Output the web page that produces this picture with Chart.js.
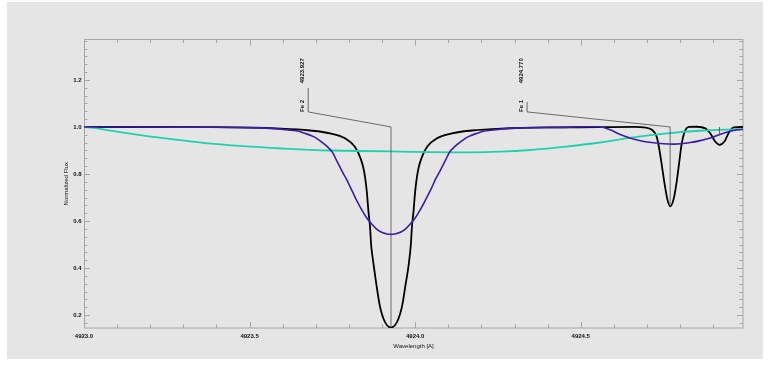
<!DOCTYPE html>
<html>
<head>
<meta charset="utf-8">
<title>Fe line profiles</title>
<script src="https://cdn.jsdelivr.net/npm/chart.js@4.4.1/dist/chart.umd.min.js"></script>
<style>
  html, body { margin: 0; padding: 0; background: #ffffff; }
  canvas { display: block; }
</style>
</head>
<body>
<canvas id="spec" width="769" height="383"></canvas>
<script>
// Axis tick labels
const wavelengthTicks = [4923.0, 4923.5, 4924.0, 4924.5];
const fluxTicks = [0.2, 0.4, 0.6, 0.8, 1.0, 1.2];

// Narrow synthetic profile (black)
const narrowWave = [
  4923.000, 4923.400, 4923.595, 4923.682, 4923.743, 4923.788, 4923.818, 4923.835,
  4923.846, 4923.854, 4923.859, 4923.864, 4923.867, 4923.874, 4923.884, 4923.894,
  4923.909, 4923.927, 4923.945, 4923.960, 4923.970, 4923.981, 4923.987, 4923.990,
  4923.995, 4924.000, 4924.008, 4924.019, 4924.036, 4924.066, 4924.111, 4924.172,
  4924.259, 4924.400, 4924.550, 4924.665, 4924.691, 4924.716, 4924.729, 4924.736,
  4924.744, 4924.753, 4924.762, 4924.770, 4924.780, 4924.789, 4924.797, 4924.805,
  4924.814, 4924.827, 4924.851, 4924.876, 4924.891, 4924.906, 4924.919, 4924.934,
  4924.947, 4924.962, 4924.990
];
const narrowFlux = [
  1.000, 0.999, 0.993, 0.985, 0.973, 0.952, 0.916, 0.867,
  0.810, 0.725, 0.640, 0.570, 0.500, 0.420, 0.320, 0.235,
  0.170, 0.147, 0.170, 0.235, 0.320, 0.420, 0.500, 0.570,
  0.640, 0.725, 0.810, 0.867, 0.916, 0.952, 0.973, 0.985,
  0.993, 0.998, 0.999, 1.000, 0.998, 0.987, 0.960, 0.916,
  0.845, 0.760, 0.690, 0.662, 0.690, 0.760, 0.845, 0.930,
  0.980, 1.000, 1.001, 0.994, 0.973, 0.938, 0.924, 0.938,
  0.975, 0.998, 1.000
];

// Broadened profile (indigo)
const broadWave = [
  4923.000, 4923.300, 4923.534, 4923.640, 4923.667, 4923.693, 4923.709, 4923.723,
  4923.737, 4923.749, 4923.759, 4923.770, 4923.780, 4923.791, 4923.805, 4923.818,
  4923.830, 4923.842, 4923.854, 4923.867, 4923.882, 4923.897, 4923.912, 4923.927,
  4923.942, 4923.957, 4923.972, 4923.987, 4924.000, 4924.012, 4924.024, 4924.036,
  4924.050, 4924.063, 4924.074, 4924.084, 4924.095, 4924.105, 4924.117, 4924.131,
  4924.145, 4924.161, 4924.187, 4924.214, 4924.320, 4924.450, 4924.559, 4924.589,
  4924.619, 4924.656, 4924.695, 4924.740, 4924.785, 4924.831, 4924.861, 4924.891,
  4924.931, 4924.961, 4924.990
];
const broadFlux = [
  1.000, 0.999, 0.996, 0.984, 0.973, 0.959, 0.945, 0.930,
  0.913, 0.895, 0.868, 0.838, 0.810, 0.782, 0.742, 0.703,
  0.670, 0.640, 0.613, 0.590, 0.568, 0.553, 0.546, 0.543,
  0.546, 0.553, 0.568, 0.590, 0.613, 0.640, 0.670, 0.703,
  0.742, 0.782, 0.810, 0.838, 0.868, 0.895, 0.913, 0.930,
  0.945, 0.959, 0.973, 0.984, 0.996, 0.998, 1.000, 0.988,
  0.968, 0.950, 0.937, 0.930, 0.927, 0.934, 0.942, 0.953,
  0.973, 0.985, 0.990
];

// Very broad profile (teal)
const smoothWave = [
  4923.000, 4923.030, 4923.069, 4923.130, 4923.202, 4923.302, 4923.402, 4923.505,
  4923.604, 4923.665, 4923.743, 4923.927, 4924.045, 4924.166, 4924.257, 4924.347,
  4924.438, 4924.559, 4924.659, 4924.761, 4924.861, 4924.990
];
const smoothFlux = [
  1.000, 0.996, 0.987, 0.974, 0.959, 0.942, 0.927, 0.916,
  0.908, 0.904, 0.900, 0.896, 0.893, 0.892, 0.895, 0.902,
  0.914, 0.934, 0.956, 0.973, 0.984, 0.991
];

// Line identifications
const lineIds = ['Fe 2', 'Fe 1'];
const lineWaves = [4923.927, 4924.770];
const lineCoreFlux = [0.147, 0.662];
const blendWaves = [4924.919];

const FONT = '"Liberation Sans", Arial, Helvetica, sans-serif';
const AXIS_GREY = '#a6a6a6';
const TEXT = '#111111';

function pairs(xs, ys) { return xs.map((x, i) => ({ x: x, y: ys[i] })); }

// Figure background, frame and inward-pointing ticks on all four sides
const framePlugin = {
  id: 'frame',
  beforeDraw(chart) {
    const c = chart.ctx;
    c.save();
    c.fillStyle = '#ffffff';
    c.fillRect(0, 0, chart.width, chart.height);
    c.fillStyle = '#e5e5e5';
    c.fillRect(7, 2, 756, 357);
    c.restore();
  },
  beforeDatasetsDraw(chart) {
    const c = chart.ctx;
    const a = chart.chartArea;
    const xs = chart.scales.x, ys = chart.scales.y;
    c.save();
    c.strokeStyle = AXIS_GREY;
    c.lineWidth = 1;
    c.strokeRect(a.left + 0.5, a.top, a.right - a.left - 0.5, a.bottom - a.top);
    c.beginPath();
    // wavelength ticks: minor every 0.1, major every 0.5
    for (let k = 0; ; k++) {
      const v = xs.min + k * 0.1;
      if (v > xs.max + 1e-9) break;
      const px = Math.round(xs.getPixelForValue(v)) + 0.5;
      const len = (k % 5 === 0) ? 6 : 3.5;
      c.moveTo(px, a.bottom); c.lineTo(px, a.bottom - len);
      c.moveTo(px, a.top); c.lineTo(px, a.top + len);
    }
    // flux ticks: major every 0.2, six minor intervals
    const step = 0.2 / 6;
    for (let k = Math.ceil(ys.min / step - 1e-9); k * step <= ys.max + 1e-9; k++) {
      const py = Math.round(ys.getPixelForValue(k * step)) + 0.5;
      const len = (k % 6 === 0) ? 6 : 3.5;
      c.moveTo(a.left, py); c.lineTo(a.left + len, py);
      c.moveTo(a.right, py); c.lineTo(a.right - len, py);
    }
    c.stroke();
    c.restore();
  }
};

// Line identification leaders and labels
const idPlugin = {
  id: 'lineIds',
  afterDatasetsDraw(chart, args, opts) {
    const c = chart.ctx;
    const xs = chart.scales.x, ys = chart.scales.y;
    c.save();
    c.strokeStyle = opts.color;
    c.lineWidth = 0.8;
    c.fillStyle = TEXT;
    c.font = opts.font;
    lineIds.forEach((id, i) => {
      const x0 = xs.getPixelForValue(lineWaves[i]);
      const xk = xs.getPixelForValue(opts.kneeWave[i]);
      const yc = ys.getPixelForValue(1.0);
      const yk = ys.getPixelForValue(opts.kneeFlux);
      const yt = ys.getPixelForValue(opts.topFlux[i]);
      const yb = ys.getPixelForValue(lineCoreFlux[i]);
      c.beginPath();
      c.moveTo(x0, yb); c.lineTo(x0, yc);
      c.lineTo(xk, yk); c.lineTo(xk, yt);
      c.stroke();
      const tx = xk + opts.textOffset;
      c.save();
      c.translate(tx, yk);
      c.rotate(-Math.PI / 2);
      c.textAlign = 'left';
      c.textBaseline = 'middle';
      c.fillText(id, 0, 0);
      c.restore();
      c.save();
      c.translate(tx, ys.getPixelForValue(opts.waveLabelFlux));
      c.rotate(-Math.PI / 2);
      c.textAlign = 'left';
      c.textBaseline = 'middle';
      c.fillText(lineWaves[i].toFixed(3), 0, 0);
      c.restore();
    });
    blendWaves.forEach(w => {
      const x = xs.getPixelForValue(w);
      c.beginPath();
      c.moveTo(x, ys.getPixelForValue(1.0));
      c.lineTo(x, ys.getPixelForValue(opts.blendTickFlux));
      c.stroke();
    });
    c.restore();
  }
};

new Chart(document.getElementById('spec'), {
  type: 'line',
  data: {
    datasets: [
      {
        label: 'broad', data: pairs(broadWave, broadFlux),
        borderColor: '#3a1ea8', borderWidth: 1.6, pointRadius: 0,
        tension: 0.4, fill: false
      },
      {
        label: 'smooth', data: pairs(smoothWave, smoothFlux),
        borderColor: '#1fd2ae', borderWidth: 1.8, pointRadius: 0,
        tension: 0.4, fill: false
      },
      {
        label: 'narrow', data: pairs(narrowWave, narrowFlux),
        borderColor: '#000000', borderWidth: 1.8, pointRadius: 0,
        cubicInterpolationMode: 'monotone', fill: false
      }
    ]
  },
  options: {
    responsive: false,
    animation: false,
    devicePixelRatio: 1,
    layout: { padding: { left: 0, top: 39.5, right: 26, bottom: 0 } },
    plugins: {
      legend: { display: false },
      tooltip: { enabled: false },
      lineIds: {
        color: '#4a4a4a',
        font: 'bold 6px ' + FONT,
        kneeWave: [4923.677, 4924.338],
        kneeFlux: 1.064,
        topFlux: [1.166, 1.106],
        waveLabelFlux: 1.186,
        textOffset: -5.5,
        blendTickFlux: 0.965
      }
    },
    scales: {
      x: {
        type: 'linear',
        min: 4923.0,
        max: 4924.99,
        afterBuildTicks: s => { s.ticks = wavelengthTicks.map(v => ({ value: v })); },
        afterFit: s => { s.height = 55; },
        grid: { display: false, drawTicks: false },
        border: { display: false },
        ticks: {
          font: { family: FONT, size: 6, weight: 'bold' }, color: TEXT, padding: 5,
          maxRotation: 0, autoSkip: false,
          callback: v => Number(v).toFixed(1)
        },
        title: {
          display: true, text: 'Wavelength [A]', color: TEXT,
          font: { family: FONT, size: 6 }, padding: { top: 0, bottom: 33.4 }
        }
      },
      y: {
        type: 'linear',
        min: 0.145,
        max: 1.372,
        afterBuildTicks: s => { s.ticks = fluxTicks.map(v => ({ value: v })); },
        afterFit: s => { s.width = 84; },
        grid: { display: false, drawTicks: false },
        border: { display: false },
        ticks: {
          font: { family: FONT, size: 6, weight: 'bold' }, color: TEXT, padding: 2.5,
          autoSkip: false,
          callback: v => Number(v).toFixed(1)
        },
        title: {
          display: true, text: 'Normalized Flux', color: TEXT,
          font: { family: FONT, size: 6 }, padding: { top: 62.4, bottom: 0 }
        }
      }
    }
  },
  plugins: [framePlugin, idPlugin]
});
</script>
</body>
</html>
